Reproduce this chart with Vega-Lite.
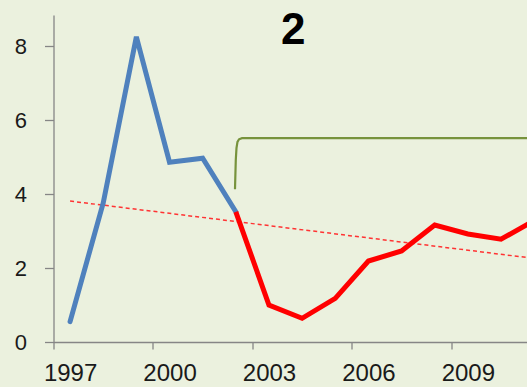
{
  "$schema": "https://vega.github.io/schema/vega-lite/v6.json",
  "width": 473.5,
  "height": 327,
  "autosize": {"type": "none"},
  "padding": {"left": 53.5, "top": 15, "right": 0, "bottom": 45},
  "background": "#EBF1DE",
  "config": {
    "view": {"stroke": null},
    "axis": {"grid": false, "domainColor": "#868686", "tickColor": "#868686", "labelColor": "#1a1a1a", "labelFont": "Liberation Sans", "domainWidth": 1.3, "tickWidth": 1.3}
  },
  "title": {"text": "2", "anchor": "middle", "orient": "top", "offset": -73, "dx": 3, "baseline": "alphabetic", "font": "Liberation Sans", "fontSize": 44, "fontWeight": "bold", "color": "#000000"},
  "datasets": {
    "main": [
      {"year": 1997, "value": 0.55, "series": "blue"},
      {"year": 1998, "value": 3.76, "series": "blue"},
      {"year": 1999, "value": 8.25, "series": "blue"},
      {"year": 2000, "value": 4.86, "series": "blue"},
      {"year": 2001, "value": 4.97, "series": "blue"},
      {"year": 2002, "value": 3.52, "series": "blue"},
      {"year": 2002, "value": 3.52, "series": "red"},
      {"year": 2003, "value": 1.0, "series": "red"},
      {"year": 2004, "value": 0.64, "series": "red"},
      {"year": 2005, "value": 1.18, "series": "red"},
      {"year": 2006, "value": 2.19, "series": "red"},
      {"year": 2007, "value": 2.46, "series": "red"},
      {"year": 2008, "value": 3.16, "series": "red"},
      {"year": 2009, "value": 2.92, "series": "red"},
      {"year": 2010, "value": 2.78, "series": "red"},
      {"year": 2011, "value": 3.28, "series": "red"}
    ],
    "trend": [
      {"year": 1997, "value": 3.81},
      {"year": 2011, "value": 2.26}
    ],
    "bracket": [
      {"year": 2001.975, "value": 4.13},
      {"year": 2001.999, "value": 4.92},
      {"year": 2002.02, "value": 5.24},
      {"year": 2002.05, "value": 5.41},
      {"year": 2002.096, "value": 5.48},
      {"year": 2002.186, "value": 5.51},
      {"year": 2011, "value": 5.51}
    ]
  },
  "encoding": {
    "x": {
      "field": "year", "type": "quantitative",
      "scale": {"domain": [1996.5, 2010.784], "nice": false, "zero": false},
      "axis": {"title": null, "values": [1997, 2000, 2003, 2006, 2009], "format": "d", "tickOffset": -16.575, "labelOffset": 16.575, "tickSize": 7, "labelPadding": 12, "labelFontSize": 24, "labelFlush": false}
    },
    "y": {
      "field": "value", "type": "quantitative",
      "scale": {"domain": [0, 8.84], "nice": false},
      "axis": {"title": null, "values": [0, 2, 4, 6, 8], "tickSize": 9, "labelPadding": 18, "labelFontSize": 22}
    }
  },
  "layer": [
    {
      "data": {"name": "trend"},
      "mark": {"type": "line", "color": "#FF3333", "strokeWidth": 1.5, "strokeDash": [4, 3]}
    },
    {
      "data": {"name": "bracket"},
      "mark": {"type": "line", "color": "#77933C", "strokeWidth": 2.2}
    },
    {
      "data": {"name": "main"},
      "transform": [{"filter": "datum.series === 'blue'"}],
      "mark": {"type": "line", "color": "#4F81BD", "strokeWidth": 5, "strokeCap": "round", "strokeJoin": "miter"}
    },
    {
      "data": {"name": "main"},
      "transform": [{"filter": "datum.series === 'red'"}],
      "mark": {"type": "line", "color": "#FF0000", "strokeWidth": 5, "strokeCap": "butt", "strokeJoin": "miter"}
    }
  ]
}
